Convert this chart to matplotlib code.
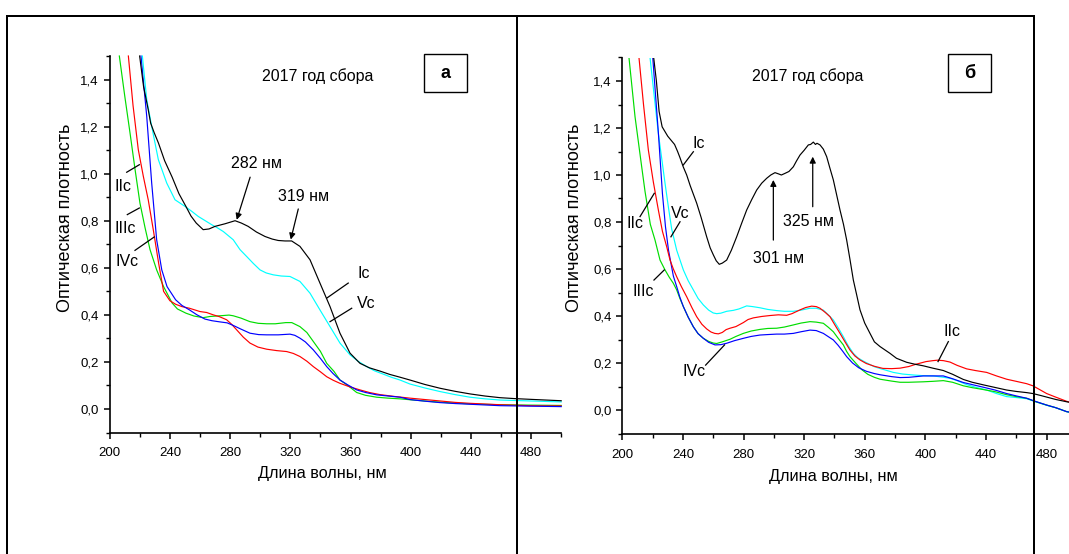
import matplotlib
matplotlib.use("Agg")
import matplotlib.pyplot as plt
from matplotlib.lines import Line2D
from matplotlib.ticker import MultipleLocator, FuncFormatter

plt.rcParams["font.family"] = ["Liberation Sans", "DejaVu Sans"]

W, H = 1069, 554

# ---- panel "а" (left) ----
a_ic_nm = [219.9, 222.5, 225.6, 227.2, 229.5, 232.4, 236.5, 241.5, 246, 250.7, 254, 257.5, 262.1, 266,
           270, 276.6, 283.3, 287.5, 292, 297.5, 303.2, 308, 312, 316.5, 320.9, 326.4, 333.1, 339.7,
           346.4, 353, 359.7, 366.3, 372.5, 379.6, 386, 392.9, 399.5, 409.5, 419.5, 429.5, 439.4,
           449.4, 459.3, 469.3, 479.3, 489.6, 500]
a_ic_y = [1.5, 1.37, 1.272, 1.215, 1.175, 1.13, 1.055, 0.985, 0.915, 0.86, 0.82, 0.79, 0.762, 0.765,
          0.776, 0.787, 0.80, 0.79, 0.776, 0.752, 0.733, 0.722, 0.716, 0.714, 0.714, 0.691, 0.634, 0.535,
          0.435, 0.322, 0.237, 0.194, 0.175, 0.161, 0.147, 0.135, 0.123, 0.104, 0.088, 0.075, 0.064,
          0.055, 0.048, 0.044, 0.041, 0.038, 0.035]

a_vc_nm = [221.7, 224.6, 227.9, 232.3, 237.9, 243.4, 250, 254.5, 258.9, 263.5, 267.8, 271.5, 275.5,
           282.1, 286.6, 291, 295.5, 299.9, 304, 308.7, 314, 319.8, 326.4, 333.1, 339.7, 346.4, 353,
           359.7, 365, 370.8, 376, 381.8, 387, 392.9, 399.5, 409.5, 419.5, 429.5, 439.4, 449.4, 459.3,
           469.3, 479.3, 489.6, 500]
a_vc_y = [1.5, 1.315, 1.201, 1.06, 0.96, 0.889, 0.861, 0.84, 0.818, 0.80, 0.783, 0.77, 0.754, 0.719,
          0.677, 0.648, 0.618, 0.591, 0.578, 0.570, 0.565, 0.563, 0.542, 0.492, 0.421, 0.35, 0.28,
          0.23, 0.203, 0.18, 0.162, 0.148, 0.135, 0.123, 0.106, 0.089, 0.074, 0.061, 0.05, 0.043,
          0.038, 0.036, 0.034, 0.032, 0.03]

a_iic_nm = [212.4, 215.5, 219, 222.3, 225.6, 229, 232.5, 235.8, 240, 243.8, 248, 253, 260, 264.4,
            268.8, 273, 277.7, 281, 284.4, 288.8, 293.2, 298.5, 304.3, 311, 317.6, 322, 326.4, 331,
            335.3, 340, 344.2, 348.5, 353, 359.5, 366.3, 372.5, 379.6, 389.5, 399.5, 409.5, 419.5,
            429.5, 439.4, 449.4, 459.3, 469.3, 479.3, 489.6, 500]
a_iic_y = [1.5, 1.29, 1.102, 0.99, 0.889, 0.76, 0.62, 0.50, 0.46, 0.445, 0.435, 0.428, 0.414, 0.41,
           0.40, 0.392, 0.379, 0.36, 0.336, 0.305, 0.28, 0.263, 0.254, 0.248, 0.244, 0.236, 0.223,
           0.203, 0.18, 0.158, 0.137, 0.122, 0.109, 0.094, 0.081, 0.07, 0.061, 0.053, 0.046, 0.04,
           0.034, 0.028, 0.024, 0.021, 0.018, 0.016, 0.014, 0.013, 0.013]

a_iiic_nm = [206.4, 210, 213.5, 216.8, 220.1, 223.5, 226.8, 231.2, 235.8, 241.5, 245, 250.7, 256,
             262.1, 266.6, 271.2, 279.3, 282.1, 287.3, 293.2, 298.7, 304.3, 310, 317, 321, 326.4, 331,
             335.5, 340, 344.2, 349, 353, 358.2, 364.1, 370, 377.4, 385, 392.9, 401.7, 413, 424.6,
             436, 447.4, 459, 470.3, 485, 500]
a_iiic_y = [1.5, 1.33, 1.173, 1.02, 0.875, 0.77, 0.677, 0.591, 0.52, 0.45, 0.425, 0.407, 0.395,
            0.388, 0.393, 0.395, 0.399, 0.396, 0.386, 0.371, 0.364, 0.362, 0.362, 0.367, 0.367, 0.35,
            0.325, 0.285, 0.245, 0.194, 0.16, 0.123, 0.10, 0.07, 0.058, 0.05, 0.046, 0.043, 0.038,
            0.032, 0.027, 0.023, 0.02, 0.018, 0.017, 0.016, 0.015]

a_ivc_nm = [220.8, 224.6, 227.9, 231.2, 234.6, 238.1, 243.8, 248, 253, 258, 263.3, 268, 273.3, 278,
            282.1, 287, 293.2, 299, 304.3, 312, 319.8, 323, 326.4, 330, 335.3, 340, 344.2, 348.5,
            353, 358, 364.1, 370, 377.4, 385, 392.9, 399.5, 409.5, 419.5, 429.5, 439.4, 449.4, 459.3,
            469.3, 479.3, 489.6, 500]
a_ivc_y = [1.5, 1.244, 0.96, 0.719, 0.591, 0.52, 0.464, 0.44, 0.421, 0.40, 0.382, 0.375, 0.37,
           0.366, 0.355, 0.34, 0.322, 0.316, 0.315, 0.315, 0.318, 0.313, 0.301, 0.285, 0.251, 0.215,
           0.18, 0.15, 0.123, 0.103, 0.081, 0.07, 0.06, 0.055, 0.05, 0.04, 0.033, 0.027, 0.023,
           0.02, 0.017, 0.014, 0.013, 0.012, 0.011, 0.01]

# ---- panel "б" (right) ----
b_ic_nm = [220.7, 222.5, 224.3, 226.3, 230, 234.5, 236.5, 238, 240.2, 242.5, 244.8, 249.1, 252,
           255.7, 258, 260.1, 262, 264, 266, 268.9, 272, 275.5, 278.8, 282.1, 285.4, 288.7, 292,
           295.3, 298, 300.8, 303, 305, 307.4, 310, 312.9, 315, 317.3, 320, 322.8, 324.3, 326.1,
           327.5, 328.5, 330.5, 332.7, 334.9, 337, 339.3, 341.5, 343.7, 346, 348.1, 350.3, 352.5,
           354.7, 356.9, 360, 363.5, 366.4, 370.1, 376.7, 381, 387.7, 393, 398.7, 405, 411.9, 418,
           425.1, 431, 438.3, 446, 453.7, 460, 466.9, 471, 476, 480.1, 486, 493.3, 500]
b_ic_y = [1.5, 1.40, 1.27, 1.205, 1.165, 1.13, 1.10, 1.075, 1.035, 1.0, 0.955, 0.88, 0.82, 0.737,
          0.69, 0.66, 0.635, 0.62, 0.625, 0.638, 0.68, 0.737, 0.795, 0.851, 0.895, 0.936, 0.965,
          0.986, 1.0, 1.01, 1.005, 1.0, 1.007, 1.015, 1.035, 1.06, 1.085, 1.105, 1.128, 1.13, 1.14,
          1.13, 1.135, 1.128, 1.11, 1.078, 1.03, 0.979, 0.915, 0.851, 0.79, 0.723, 0.64, 0.553,
          0.49, 0.426, 0.37, 0.326, 0.29, 0.27, 0.241, 0.22, 0.203, 0.195, 0.188, 0.178, 0.168,
          0.152, 0.13, 0.118, 0.107, 0.096, 0.085, 0.079, 0.074, 0.07, 0.062, 0.055, 0.045, 0.035,
          0.027]

b_iic_nm = [211, 214, 217.2, 220.5, 223.8, 226.5, 229.3, 231.5, 233.7, 235.9, 239, 242.5, 246, 249.1,
            252.5, 255.7, 258.5, 261, 263.4, 266, 268.5, 271.1, 275, 279.9, 283, 286.5, 292, 297.5,
            303, 308.5, 312, 317.3, 321, 325, 328, 330.5, 334, 337.1, 340.5, 343.7, 347, 350.3, 353.5,
            356.9, 361, 366.4, 372, 377.8, 383.3, 389.1, 394, 400.5, 405, 408, 412, 416.3, 421, 427.3,
            433, 440.5, 447, 453.7, 460, 466.9, 471, 476, 480.1, 486, 493.3, 500]
b_iic_y = [1.5, 1.30, 1.106, 0.97, 0.851, 0.76, 0.695, 0.638, 0.60, 0.567, 0.525, 0.482, 0.435,
           0.397, 0.365, 0.345, 0.332, 0.326, 0.324, 0.33, 0.342, 0.348, 0.355, 0.372, 0.385, 0.392,
           0.398, 0.402, 0.405, 0.403, 0.41, 0.426, 0.436, 0.442, 0.44, 0.433, 0.415, 0.397, 0.36,
           0.326, 0.29, 0.255, 0.23, 0.213, 0.198, 0.186, 0.177, 0.176, 0.178, 0.185, 0.195, 0.206,
           0.21, 0.212, 0.21, 0.204, 0.19, 0.175, 0.168, 0.16, 0.145, 0.131, 0.122, 0.112, 0.103,
           0.085, 0.07, 0.055, 0.037, 0.025]

b_iiic_nm = [204.4, 208.4, 212.8, 215, 217.5, 218.5, 221.6, 224.9, 228.2, 231, 233.7, 235.9, 238,
             240.3, 243.5, 246.9, 250, 253.5, 257, 260, 262.3, 266, 271.1, 275, 279.9, 285, 290.9,
             296, 301.9, 307, 312.9, 318, 323.9, 328, 332.7, 336, 339.3, 342.5, 345.9, 348, 350.3,
             354, 358, 362, 366.4, 370.1, 377.8, 383.3, 389.1, 398.7, 405, 411.9, 418, 425.1, 431,
             438.3, 446, 453.7, 460, 466.9, 473, 480.1, 486, 493.3, 500]
b_iiic_y = [1.5, 1.248, 1.035, 0.93, 0.83, 0.79, 0.723, 0.638, 0.596, 0.565, 0.539, 0.511, 0.475,
            0.44, 0.395, 0.354, 0.325, 0.305, 0.292, 0.285, 0.283, 0.29, 0.301, 0.313, 0.326, 0.336,
            0.343, 0.347, 0.348, 0.353, 0.362, 0.37, 0.376, 0.374, 0.369, 0.352, 0.333, 0.305, 0.277,
            0.25, 0.227, 0.2, 0.172, 0.152, 0.139, 0.131, 0.123, 0.118, 0.118, 0.12, 0.122, 0.125,
            0.118, 0.103, 0.095, 0.087, 0.078, 0.065, 0.057, 0.05, 0.035, 0.021, 0.01, -0.007, -0.015]

b_ivc_nm = [220.1, 223.8, 226.5, 228.5, 230.5, 233.7, 235.9, 238, 240.3, 243.5, 246.9, 250, 253.5,
            257, 261.2, 265, 268.9, 274, 279.9, 285, 290.9, 296, 301.9, 307, 312.9, 318, 323.9, 328,
            332.7, 336, 339.3, 342.5, 345.5, 348.1, 352, 356, 361, 366.4, 370.1, 377.8, 383.3, 389.1,
            398.7, 405, 411.9, 418, 425.1, 431, 438.3, 446, 453.7, 460, 466.9, 473, 480.1, 486, 493.3,
            500]
b_ivc_y = [1.5, 1.18, 0.92, 0.78, 0.68, 0.57, 0.525, 0.48, 0.44, 0.395, 0.354, 0.325, 0.305, 0.288,
           0.277, 0.278, 0.284, 0.295, 0.305, 0.313, 0.319, 0.321, 0.323, 0.323, 0.326, 0.333, 0.34,
           0.338, 0.326, 0.312, 0.298, 0.275, 0.25, 0.227, 0.2, 0.18, 0.165, 0.155, 0.15, 0.142,
           0.138, 0.139, 0.145, 0.145, 0.145, 0.133, 0.117, 0.108, 0.097, 0.085, 0.07, 0.06, 0.05,
           0.036, 0.021, 0.01, -0.007, -0.015]

b_vc_nm = [218.3, 221, 223.8, 228.2, 230.5, 232.6, 235.9, 240.3, 243.5, 246.9, 250, 253.5, 257, 260,
           262.3, 265, 268.9, 273.3, 277, 282.1, 286, 290.9, 296, 301.9, 307, 312.9, 318, 323.9, 328,
           332.7, 336, 339.3, 342.5, 345.9, 349, 352.5, 355.5, 359.1, 363, 366.4, 371, 378.9, 385,
           392.1, 398.7, 405.3, 411, 416.3, 421, 427.3, 433, 440.5, 447, 453.7, 460, 466.9, 473,
           480.1, 486, 493.3, 500]
b_vc_y = [1.5, 1.34, 1.177, 0.965, 0.86, 0.77, 0.68, 0.596, 0.55, 0.511, 0.475, 0.447, 0.425, 0.413,
          0.41, 0.412, 0.42, 0.424, 0.43, 0.443, 0.44, 0.435, 0.428, 0.423, 0.42, 0.42, 0.425, 0.433,
          0.433, 0.425, 0.405, 0.383, 0.35, 0.312, 0.275, 0.241, 0.222, 0.208, 0.195, 0.184, 0.175,
          0.16, 0.153, 0.149, 0.146, 0.145, 0.14, 0.135, 0.125, 0.108, 0.097, 0.085, 0.07, 0.057,
          0.053, 0.048, 0.035, 0.02, 0.01, -0.007, -0.015]

series_colors = {"Ic": "black", "IIc": "#ff0000", "IIIc": "#00dd00", "IVc": "#0000ff", "Vc": "#00ffff"}
x_major = [200, 240, 280, 320, 360, 400, 440, 480]
y_major = [0.0, 0.2, 0.4, 0.6, 0.8, 1.0, 1.2, 1.4]

fig = plt.figure(figsize=(W / 100, H / 100), dpi=100)


def px_box(x0, y_top, x1, y_bot):
    return [x0 / W, 1 - y_bot / H, (x1 - x0) / W, (y_bot - y_top) / H]


def style_axes(ax, xlab_pos, ylab_pos):
    ax.set_xlim(200, 500)
    ax.set_ylim(-0.1, 1.5)
    for s in ["top", "right"]:
        ax.spines[s].set_visible(False)
    for s in ["left", "bottom"]:
        ax.spines[s].set_linewidth(1.2)
    ax.set_xticks(x_major)
    ax.set_yticks(y_major)
    ax.xaxis.set_minor_locator(MultipleLocator(20))
    ax.yaxis.set_minor_locator(MultipleLocator(0.1))
    ax.yaxis.set_major_formatter(FuncFormatter(lambda v, p: ("%.1f" % v).replace(".", ",")))
    ax.tick_params(which="major", direction="out", length=4.3, width=1.1, labelsize=9.5)
    ax.tick_params(which="minor", direction="out", length=2.9, width=1.0)
    ax.tick_params(axis="x", which="major", pad=6.5)
    ax.tick_params(axis="y", which="major", pad=3.5)
    ax.set_xlabel("Длина волны, нм", fontsize=11.7)
    ax.set_ylabel("Оптическая плотность", fontsize=13)
    ax.xaxis.label.set_va("center")
    ax.yaxis.label.set_va("center")
    ax.xaxis.set_label_coords(*xlab_pos)
    ax.yaxis.set_label_coords(*ylab_pos)
    ax.patch.set_alpha(0)


ax1 = fig.add_axes(px_box(109.7, 56, 561.2, 432.5))
ax2 = fig.add_axes(px_box(622.3, 57.5, 1076.8, 433.5))
style_axes(ax1, (0.470, -0.110), (-0.098, 0.570))
style_axes(ax2, (0.4636, -0.115), (-0.1045, 0.573))

lw = 0.85
for nm, y, name in [(a_iiic_nm, a_iiic_y, "IIIc"), (a_iic_nm, a_iic_y, "IIc"), (a_ivc_nm, a_ivc_y, "IVc"),
                    (a_vc_nm, a_vc_y, "Vc"), (a_ic_nm, a_ic_y, "Ic")]:
    ax1.plot(nm, y, color=series_colors[name], lw=lw, clip_on=False)
for nm, y, name in [(b_vc_nm, b_vc_y, "Vc"), (b_iiic_nm, b_iiic_y, "IIIc"), (b_ivc_nm, b_ivc_y, "IVc"),
                    (b_iic_nm, b_iic_y, "IIc"), (b_ic_nm, b_ic_y, "Ic")]:
    ax2.plot(nm, y, color=series_colors[name], lw=lw)

fs = 11.5
arrow = dict(arrowstyle="-|>", color="black", lw=0.9, mutation_scale=9, shrinkA=0, shrinkB=0)


def leader(ax, text, txy, p0, p1):
    ax.plot([p0[0], p1[0]], [p0[1], p1[1]], color="black", lw=0.9)
    ax.text(txy[0], txy[1], text, fontsize=fs, ha="center", va="center")


# panel а labels
ax1.text(297.6, 1.045, "282 нм", fontsize=fs, ha="center", va="center")
ax1.annotate("", xy=(284.4, 0.804), xytext=(293.3, 0.985), arrowprops=arrow)
ax1.text(329.0, 0.903, "319 нм", fontsize=fs, ha="center", va="center")
ax1.annotate("", xy=(320.3, 0.72), xytext=(325.3, 0.85), arrowprops=arrow)
leader(ax1, "Ic", (368.5, 0.575), (358.5, 0.535), (344.2, 0.471))
leader(ax1, "Vc", (370.5, 0.45), (360.8, 0.428), (346.4, 0.371))
leader(ax1, "IIc", (208.6, 0.946), (211.3, 1.006), (219.7, 1.038))
leader(ax1, "IIIc", (210.2, 0.769), (211.7, 0.826), (219.7, 0.854))
leader(ax1, "IVc", (211.3, 0.627), (216.8, 0.674), (229.6, 0.731))

# panel б labels
leader(ax2, "Ic", (250.5, 1.135), (246.9, 1.099), (240.3, 1.043))
leader(ax2, "Vc", (238.5, 0.837), (238.1, 0.801), (232.1, 0.737))
leader(ax2, "IIc", (208.4, 0.794), (211.7, 0.823), (221.1, 0.922))
leader(ax2, "IIIc", (214.1, 0.503), (220.9, 0.553), (227.7, 0.596))
leader(ax2, "IVc", (247.1, 0.163), (255.0, 0.191), (267.5, 0.277))
leader(ax2, "IIc", (417.5, 0.336), (415.2, 0.291), (408.4, 0.206))
ax2.text(303.0, 0.645, "301 нм", fontsize=fs, ha="center", va="center")
ax2.annotate("", xy=(299.7, 0.979), xytext=(299.7, 0.723), arrowprops=arrow)
ax2.text(322.8, 0.801, "325 нм", fontsize=fs, ha="center", va="center")
ax2.annotate("", xy=(325.7, 1.078), xytext=(325.7, 0.865), arrowprops=arrow)

# titles and panel letters
for cx, bx0, bx1, letter in [(317.8, 424.2, 466.6, "а"), (807.2, 948.4, 991.4, "б")]:
    fig.text(cx / W, 1 - 76 / H, "2017 год сбора", fontsize=11.5, ha="center", va="center")
    fig.add_artist(plt.Rectangle((bx0 / W, 1 - 92 / H), (bx1 - bx0) / W, 38 / H,
                                 transform=fig.transFigure, fill=False, lw=1.0, ec="black"))
    fig.text((bx0 + bx1) / 2 / W, 1 - 73 / H, letter, fontsize=13, fontweight="bold",
             ha="center", va="center")

# outer frame lines
frame_lw = 2.0 * 72 / 100
for xs, ys in [([7, 1033.5], [15.5, 15.5]), ([7, 7], [15.5, 554]), ([517, 517], [15.5, 554]),
               ([1033.5, 1033.5], [15.5, 554])]:
    fig.add_artist(Line2D([x / W for x in xs], [1 - y / H for y in ys], transform=fig.transFigure,
                          color="black", lw=frame_lw, zorder=10))

fig.savefig("out.png", dpi=100)
